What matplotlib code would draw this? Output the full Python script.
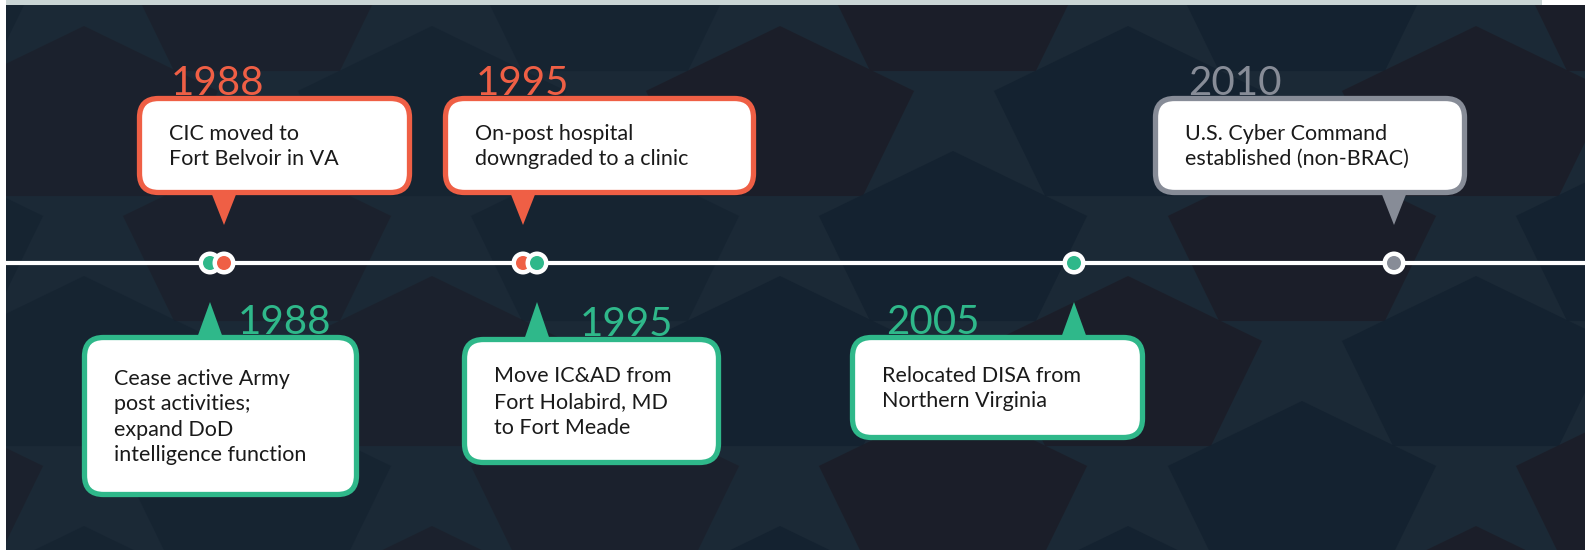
import matplotlib
matplotlib.use("Agg")
import matplotlib.pyplot as plt
from matplotlib.patches import FancyBboxPatch, Polygon, Circle, Rectangle
import numpy as np

# ---- data ----
years = ["1988", "1995", "2010", "1988", "1995", "2005"]
texts = [
    "CIC moved to\nFort Belvoir in VA",
    "On-post hospital\ndowngraded to a clinic",
    "U.S. Cyber Command\nestablished (non-BRAC)",
    "Cease active Army\npost activities;\nexpand DoD\nintelligence function",
    "Move IC&AD from\nFort Holabird, MD\nto Fort Meade",
    "Relocated DISA from\nNorthern Virginia",
]
sides = ["top", "top", "top", "bottom", "bottom", "bottom"]
kinds = ["orange", "orange", "gray", "green", "green", "green"]

# ---- layout (pixels) ----
W, H = 1585, 550
marker_x = [224, 523, 1394, 210, 537, 1074]
box_x0 = [137, 443, 1153, 82, 462, 850]
box_x1 = [412, 756, 1467, 359, 721, 1145]
box_y0 = [96, 96, 96, 335, 337, 335]
box_y1 = [195, 195, 195, 497, 465, 440]
year_x = [171, 476, 1188, 238, 580, 886]
LINE_Y = 263

palette = {"orange": "#ef5f45", "green": "#2fb88a", "gray": "#878c97"}
BG = "#1b2936"
BLUE = "#13212f"
GRAYD = "#1b1d27"

fig = plt.figure(figsize=(W / 100, H / 100), dpi=100)
ax = fig.add_axes([0, 0, 1, 1])
ax.set_xlim(0, W)
ax.set_ylim(H, 0)
ax.axis("off")
fig.patch.set_facecolor("white")

# background
ax.add_patch(Rectangle((0, 0), W, H, facecolor=BG, edgecolor="none", zorder=0))


def pent(cx, ty, R=94, sx=1.5):
    cy = ty + R
    a = np.deg2rad(-90 + 72 * np.arange(5))
    return np.c_[cx + sx * R * np.cos(a), cy + R * np.sin(a)]


rows = [-99, 26, 151, 276, 401, 526]
row_x = {0: [84, 432, 780, 1128, 1476], 1: [-91, 257, 605, 953, 1302, 1650]}
cols = {
    -99: [BLUE, GRAYD, BLUE, GRAYD, BLUE, GRAYD],
    26: [GRAYD, BLUE, GRAYD, BLUE, GRAYD],
    151: [BLUE, GRAYD, BLUE, BLUE, GRAYD, BLUE],
    276: [BLUE, GRAYD, BLUE, GRAYD, BLUE],
    401: [GRAYD, BLUE, GRAYD, GRAYD, BLUE, GRAYD],
    526: [BLUE, GRAYD, BLUE, BLUE, GRAYD],
}
for k, ty in enumerate(rows):
    xs = row_x[(k + 1) % 2]
    for cx, c in zip(xs, cols[ty]):
        a = 0.6 if cx < 700 else 0.85
        ax.add_patch(Polygon(pent(cx, ty), closed=True, facecolor=c,
                             edgecolor="none", zorder=0.6, alpha=a))

# frame strips
ax.add_patch(Rectangle((0, 0), 6, H, facecolor="white", edgecolor="none", zorder=1))
ax.add_patch(Rectangle((6, 0), 1536, 5, facecolor="#cad5d5", edgecolor="none", zorder=1))
ax.add_patch(Rectangle((1542, 0), W - 1542, 5, facecolor="white", edgecolor="none", zorder=1))

# timeline line
ax.plot([6, W], [LINE_Y, LINE_Y], color="white", lw=3.0, zorder=2, solid_capstyle="butt")

FONT = ["Lato", "DejaVu Sans"]

for i in range(len(years)):
    col = palette[kinds[i]]
    x0, x1, y0, y1 = box_x0[i], box_x1[i], box_y0[i], box_y1[i]
    mx = marker_x[i]
    if sides[i] == "top":
        tail = [(mx - 13, y1 - 3), (mx + 13, y1 - 3), (mx, 225)]
    else:
        tail = [(mx - 13, y0 + 3), (mx + 13, y0 + 3), (mx, 302)]
    ax.add_patch(Polygon(tail, closed=True, facecolor=col, edgecolor="none", zorder=3))
    box = FancyBboxPatch((x0 + 2.5, y0 + 2.5), x1 - x0 - 5, y1 - y0 - 5,
                         boxstyle="round,pad=0,rounding_size=19",
                         facecolor="white", edgecolor=col, lw=3.8, zorder=4)
    ax.add_patch(box)
    ax.text(x0 + 32, (y0 + y1) / 2 + 1, texts[i], ha="left", va="center", fontsize=15.5,
            family=FONT, color="#1a1a1a", linespacing=1.35, zorder=5)
    ax.text(year_x[i], y0 - 1, years[i], ha="left", va="baseline", fontsize=29,
            family=FONT, fontweight="normal", color=col, zorder=3.5)

order = [3, 0, 1, 4, 5, 2]
for i in order:
    col = palette[kinds[i]]
    ax.add_patch(Circle((marker_x[i], LINE_Y), 11.5, facecolor="white", edgecolor="none", zorder=6))
    ax.add_patch(Circle((marker_x[i], LINE_Y), 7, facecolor=col, edgecolor="none", zorder=6))

fig.savefig("out.png", dpi=100, facecolor=fig.get_facecolor())
